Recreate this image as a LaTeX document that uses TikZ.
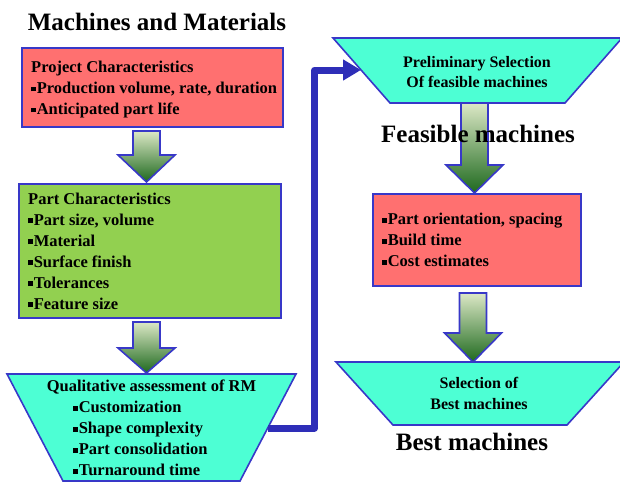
\documentclass[tikz,border=0pt]{standalone}
\usepackage{fontspec}
\setmainfont{Liberation Serif}
\usetikzlibrary{arrows.meta,calc}
\definecolor{redf}{RGB}{255,112,112}
\definecolor{greenf}{RGB}{146,208,80}
\definecolor{cyanf}{RGB}{77,255,212}
\definecolor{bord}{RGB}{56,56,200}
\definecolor{connc}{RGB}{46,46,184}
\definecolor{arrtop}{RGB}{220,232,198}
\definecolor{arrbot}{RGB}{30,105,30}
\newcommand\sqb{\rule[0.12em]{0.3em}{0.3em}\hspace{0.04em}}
\newcommand\blockarrow[4]{\shadedraw[barrow] ({#1-13.5},#2) -- ({#1+13.5},#2) -- ({#1+13.5},#3) -- ({#1+28.5},#3) -- (#1,#4) -- ({#1-28.5},#3) -- ({#1-13.5},#3) -- cycle;}
\tikzset{
  box/.style={draw=bord, line width=1.6pt, inner sep=0pt, outer sep=0pt},
  trap/.style={draw=bord, fill=cyanf, line width=1.6pt, line join=miter},
  txt/.style={font=\fontsize{16.5}{21}\selectfont\bfseries, align=left, inner sep=0pt},
  ctxt/.style={font=\fontsize{16}{20.5}\selectfont\bfseries, align=center, inner sep=0pt},
  big/.style={font=\fontsize{25}{30}\selectfont\bfseries, inner sep=0pt},
  barrow/.style={draw=bord, line width=1.6pt, top color=arrtop, bottom color=arrbot},
  conn/.style={draw=connc, line width=7pt, line join=round, -{Triangle[length=18pt,width=20pt]}}
}
\begin{document}
\begin{tikzpicture}[x=1pt,y=-1pt]
\useasboundingbox (0,0) rectangle (620,482);
% title
\node[big] (title) at (157,22) {Machines and Materials};
% project characteristics
\node[box, fill=redf, minimum width=261, minimum height=79] (proj) at (152.5,87.5) {};
\node[txt, anchor=west] (projt) at ([xshift=9pt,yshift=-2pt]proj.west) {Project Characteristics\\\sqb Production volume, rate, duration\\\sqb Anticipated part life};
\blockarrow{146.5}{131}{155}{182}
% part characteristics
\node[box, fill=greenf, minimum width=262, minimum height=134] (part) at (150,251) {};
\node[txt, anchor=west] (partt) at ([xshift=9pt]part.west) {Part Characteristics\\\sqb Part size, volume\\\sqb Material\\\sqb Surface finish\\\sqb Tolerances\\\sqb Feature size};
\blockarrow{146.5}{322}{348}{373}
% qualitative assessment
\path[trap] (7,374) -- (296,374) -- (240,481) -- (63,481) -- cycle;
\coordinate (qaR) at (268,428);
\node[txt] (qat) at (151.5,387) {Qualitative assessment of RM};
\node[txt, anchor=north west] (qab) at (73,401) {\sqb Customization\\\sqb Shape complexity\\\sqb Part consolidation\\\sqb Turnaround time};
% preliminary selection
\path[trap] (333,38) -- (622,38) -- (565,103) -- (390,103) -- cycle;
\coordinate (preL) at (361,70);
\node[ctxt] (pret) at (477,72) {Preliminary Selection\\Of feasible machines};
\coordinate (bend) at (314.5,70);
\draw[conn] (qaR) -| (bend) -- (preL);
\blockarrow{474.5}{103}{165}{193}
\node[big] (feas) at (478,134) {Feasible machines};
% build evaluation
\node[box, fill=redf, minimum width=208, minimum height=92] (build) at (477,240) {};
\node[txt, anchor=west] (buildt) at ([xshift=9pt]build.west) {\sqb Part orientation, spacing\\\sqb Build time\\\sqb Cost estimates};
\blockarrow{473}{293}{333}{362}
% selection of best
\path[trap] (336,362) -- (624,362) -- (567,425) -- (393,425) -- cycle;
\node[ctxt] (bestt) at (479,393.5) {Selection of\\Best machines};
\node[big] (bestl) at (472,442) {Best machines};
\end{tikzpicture}
\end{document}
